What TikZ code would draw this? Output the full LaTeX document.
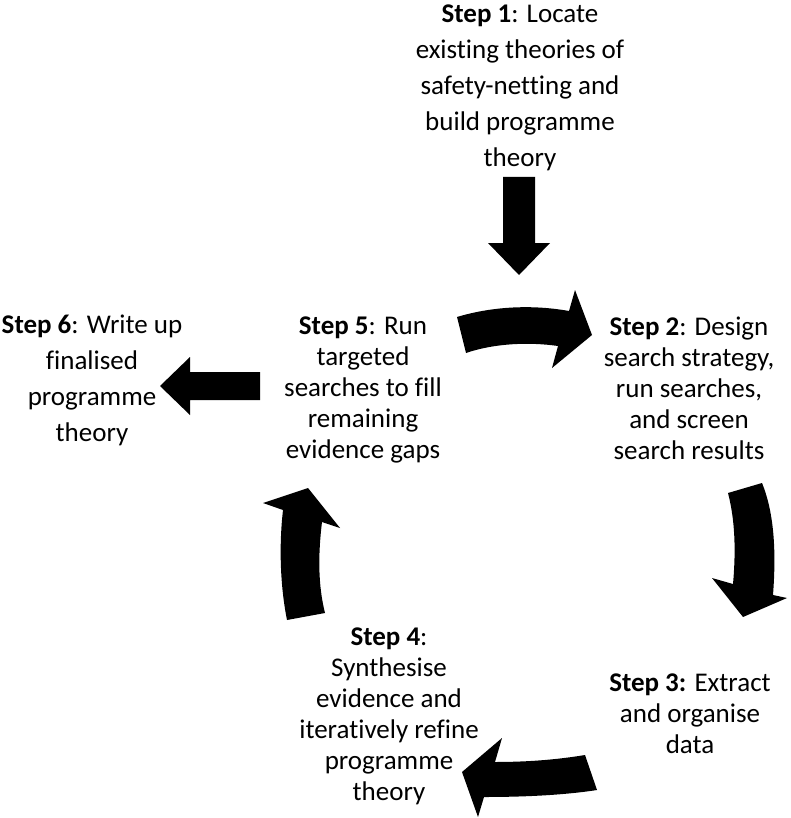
\documentclass[tikz,border=0pt]{standalone}
\usepackage{fontspec}
\setmainfont{Carlito}[Ligatures={NoCommon}]
\begin{document}
\begin{tikzpicture}[x=1pt,y=-1pt,
  lbl/.style={align=center,inner sep=0pt,text=black,font=\fontsize{27}{31}\selectfont},
  lblwide/.style={lbl,font=\fontsize{27}{36}\selectfont},
  blk/.style={fill=black,draw=none}]
\useasboundingbox (0,0) rectangle (790,818);
\fill[white] (0,0) rectangle (790,818);

\node[lblwide] (s1) at (520,87) {\strut\textbf{Step 1}: Locate\\existing theories of\\safety-netting and\\build programme\\theory\strut};
\node[lblwide] (s6) at (92,380) {\strut\textbf{Step 6}: Write up\\finalised\\programme\\theory\strut};
\node[lbl] (s5) at (363,390) {\strut\textbf{Step 5}: Run\\targeted\\searches to fill\\remaining\\evidence gaps\strut};
\node[lbl] (s2) at (689,391) {\strut\textbf{Step 2}: Design\\search strategy,\\run searches,\\and screen\\search results\strut};
\node[lbl] (s3) at (690,716) {\strut\textbf{Step 3:} Extract\\and organise\\data\strut};
\node[lbl] (s4) at (389,717) {\strut\textbf{Step 4}:\\Synthesise\\evidence and\\iteratively refine\\programme\\theory\strut};

% Step 1 down arrow
\fill[blk] (503,177) -- (535,177) -- (535,243) -- (550,243) -- (519,275) -- (488,243) -- (503,243) -- cycle;
% Step 5 -> Step 6 left arrow
\fill[blk] (260,372) -- (190,372) -- (190,357) -- (160,386) -- (190,415) -- (190,400) -- (260,400) -- cycle;
% Step 5 -> Step 2 curved arrow
\fill[blk] (457,317) .. controls (490,307) and (530,304) .. (569,311) -- (575,290) -- (592,335) -- (552,368) -- (558,346) .. controls (530,342) and (495,343) .. (466,353) -- cycle;
% Step 2 -> Step 3 curved arrow
\fill[blk] (728,493) -- (762,483) .. controls (775,515) and (776,555) .. (773,595) -- (787,598) -- (743,617) -- (712,578) -- (733,584) .. controls (736,550) and (735,520) .. (728,493) -- cycle;
% Step 3 -> Step 4 curved arrow
\fill[blk] (585,755) .. controls (555,760) and (525,762) .. (495,762) -- (502,738) -- (462,772) -- (478,817) -- (484,797) .. controls (525,797) and (565,795) .. (597,790) -- cycle;
% Step 4 -> Step 5 curved arrow
\fill[blk] (287,620) .. controls (280,585) and (279,545) .. (283,510) -- (263,503) -- (308,488) -- (340,528) -- (322,522) .. controls (318,555) and (318,585) .. (325,613) -- cycle;
\end{tikzpicture}
\end{document}
